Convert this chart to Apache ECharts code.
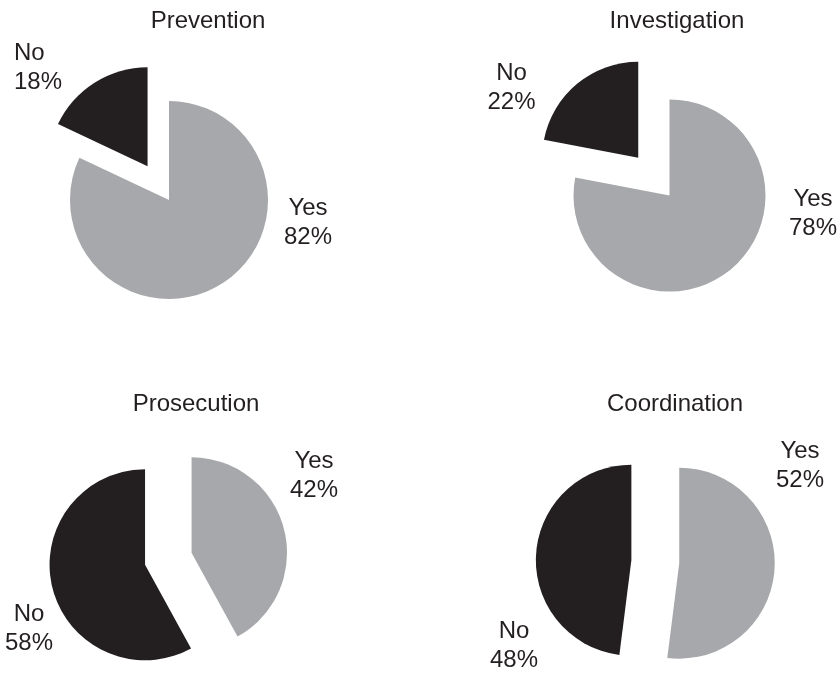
<!DOCTYPE html>
<html>
<head>
<meta charset="utf-8">
<script src="https://cdn.jsdelivr.net/npm/echarts@6/dist/echarts.min.js"></script>
<style>
  html, body { margin: 0; padding: 0; background: #fff; }
  #chart { width: 840px; height: 675px; }
</style>
</head>
<body>
<div id="chart"></div>
<script>
// Survey answers, share of respondents in percent
const panels = ['Prevention', 'Investigation', 'Prosecution', 'Coordination'];
const answers = ['Yes', 'No'];
const yesShare = [82, 78, 42, 52];
const noShare = [18, 22, 58, 48];

const GRAY = '#a7a8ab';
const INK = '#231f20';
const FONT = '"Liberation Sans", Arial, Helvetica, sans-serif';

// Per-panel placement: pie centre, radius, explode distance,
// which slices (Yes, No) are pulled out, title anchor and label anchors.
const panelLayout = [
  { center: [169, 200], radius: 99, offset: 40, pulled: [false, true], title: [208, 9],
    labels: [{ x: 308, y: 223, align: 'center' }, { x: 14, y: 68, align: 'left' }] },
  { center: [669.5, 195.5], radius: 96, offset: 49, pulled: [false, true], title: [677, 9],
    labels: [{ x: 813, y: 214, align: 'center' }, { x: 511.5, y: 88, align: 'center' }] },
  { center: [168.3, 558.8], radius: 95.5, offset: 24, pulled: [true, true], title: [196, 392],
    labels: [{ x: 314, y: 476, align: 'center' }, { x: 29, y: 629, align: 'center' }] },
  { center: [655.3, 561.7], radius: 95.5, offset: 24, pulled: [true, true], title: [675, 392],
    labels: [{ x: 800, y: 466, align: 'center' }, { x: 514, y: 646, align: 'center' }] }
];

const sliceColors = [GRAY, INK];

const titles = panels.map((name, i) => ({
  text: name,
  left: panelLayout[i].title[0],
  top: panelLayout[i].title[1],
  textAlign: 'center',
  padding: 0,
  textStyle: { fontFamily: FONT, fontSize: 24, fontWeight: 'normal', color: INK }
}));

function panelData(i, withSelection) {
  const values = [yesShare[i], noShare[i]];
  return answers.map((a, k) => ({
    name: a,
    value: values[k],
    selected: withSelection ? panelLayout[i].pulled[k] : false
  }));
}

const series = [];
panels.forEach((name, i) => {
  const lay = panelLayout[i];
  // the exploded slices
  series.push({
    type: 'pie',
    name: name,
    center: lay.center,
    radius: lay.radius,
    startAngle: 90,
    clockwise: true,
    animation: false,
    silent: true,
    selectedMode: 'multiple',
    selectedOffset: lay.offset,
    emphasis: { disabled: true },
    label: { show: false },
    labelLine: { show: false },
    data: panelData(i, true).map((d, k) => Object.assign(d, {
      itemStyle: { color: sliceColors[k], borderWidth: 0 },
      select: { itemStyle: { color: sliceColors[k], borderWidth: 0 } }
    }))
  });
  // the "Yes / No" percentage labels for the same slices
  series.push({
    type: 'pie',
    name: name + ' labels',
    center: lay.center,
    radius: lay.radius,
    startAngle: 90,
    clockwise: true,
    animation: false,
    silent: true,
    avoidLabelOverlap: false,
    emphasis: { disabled: true },
    itemStyle: { color: 'rgba(0,0,0,0)', borderWidth: 0 },
    label: {
      show: true,
      position: 'outside',
      formatter: (p) => p.name + '\n' + p.value + '%',
      fontFamily: FONT,
      fontSize: 24,
      lineHeight: 29,
      color: INK
    },
    labelLine: { show: false },
    labelLayout: (params) => {
      const s = panelLayout[Math.floor(params.seriesIndex / 2)].labels[params.dataIndex];
      return { x: s.x, y: s.y, align: s.align, verticalAlign: 'middle' };
    },
    data: panelData(i, false)
  });
});

const chart = echarts.init(document.getElementById('chart'), null, { renderer: 'canvas' });
chart.setOption({
  backgroundColor: '#ffffff',
  animation: false,
  title: titles,
  tooltip: { show: false },
  series: series
});
</script>
</body>
</html>
